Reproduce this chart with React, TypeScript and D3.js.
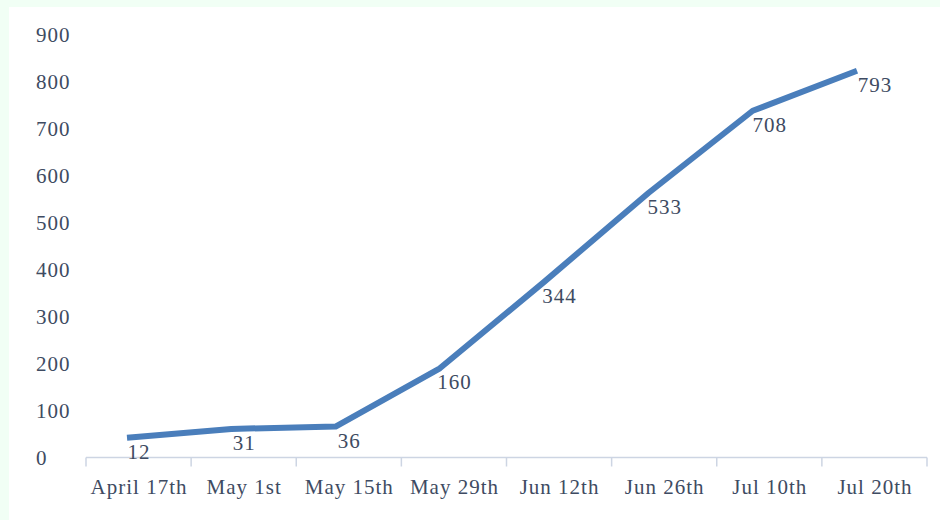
import React from "react";
import * as d3 from "d3";

const categories = ["April 17th", "May 1st", "May 15th", "May 29th", "Jun 12th", "Jun 26th", "Jul 10th", "Jul 20th"];
const values = [12, 31, 36, 160, 344, 533, 708, 793];
const yTicks = [0, 100, 200, 300, 400, 500, 600, 700, 800, 900];

const W = 940;
const H = 520;
const FONT = "'Liberation Serif', 'Times New Roman', serif";
const TEXT = "#3e4b62";

export default function App() {
  const x = d3.scaleBand<string>().domain(categories).range([86, 927]);
  const y = d3.scaleLinear().domain([0, 900]).range([457.5, 34.5]);
  // the drawn line sits slightly offset from the axis frame in the reference
  const xLine = d3.scalePoint<string>().domain(categories).range([127, 857]);
  const lineOffsetY = -14;

  const line = d3
    .line<number>()
    .x((_, i) => xLine(categories[i]) as number)
    .y((d) => y(d) + lineOffsetY);

  const tickXs = [...categories.map((c) => x(c) as number), x.range()[1]];

  return (
    <svg width={W} height={H} style={{ position: "absolute", left: 0, top: 0 }} fontFamily={FONT} letterSpacing={1}>
      <rect x={0} y={0} width={W} height={H} fill="#f1fff5" />
      <rect x={9} y={7} width={W - 9} height={H - 7} fill="#ffffff" />

      {yTicks.map((t) => (
        <text key={t} x={36} y={y(t)} dominantBaseline="central" fontSize={21} fill={TEXT}>
          {t}
        </text>
      ))}

      <line x1={86} x2={927} y1={y(0)} y2={y(0)} stroke="#cdd5e3" strokeWidth={1.5} />
      {tickXs.map((tx, i) => (
        <line key={i} x1={tx} x2={tx} y1={y(0)} y2={y(0) + 9} stroke="#cdd5e3" strokeWidth={1.5} />
      ))}

      {categories.map((c) => (
        <text
          key={c}
          x={(x(c) as number) + x.bandwidth() / 2 + 0.5}
          y={487}
          textAnchor="middle"
          dominantBaseline="central"
          fontSize={21}
          fill={TEXT}
        >
          {c}
        </text>
      ))}

      <path d={line(values) || ""} fill="none" stroke="#4a7ebb" strokeWidth={6} strokeLinejoin="round" />

      {values.map((v, i) => (
        <text
          key={i}
          x={(x(categories[i]) as number) + x.bandwidth() / 2 + 0.5}
          y={y(v)}
          textAnchor="middle"
          dominantBaseline="central"
          fontSize={21}
          fill={TEXT}
        >
          {v}
        </text>
      ))}
    </svg>
  );
}
